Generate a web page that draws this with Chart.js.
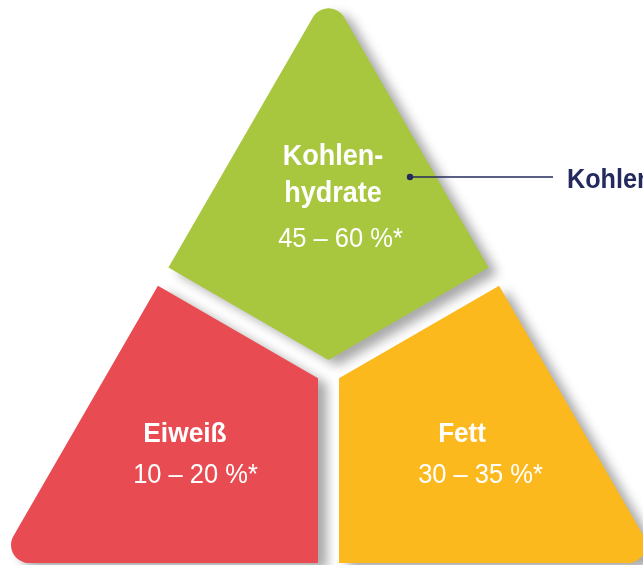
<!DOCTYPE html>
<html lang="de">
<head>
<meta charset="utf-8">
<title>Nährstoffverteilung</title>
<script src="https://cdn.jsdelivr.net/npm/chart.js@4.4.1/dist/chart.umd.min.js"></script>
<style>
  html, body { margin: 0; padding: 0; background: #fff; overflow: hidden; }
  #wrap { width: 643px; height: 565px; }
</style>
</head>
<body>
<div id="wrap"><canvas id="chart" width="643" height="565"></canvas></div>
<script>
// ── Daten: empfohlene Anteile an der Energiezufuhr ──
const NUTRIENTS = ['Kohlenhydrate', 'Eiweiß', 'Fett'];
const LABEL_LINES = [['Kohlen-', 'hydrate'], ['Eiweiß'], ['Fett']];
const RANGE_MIN = [45, 10, 30];
const RANGE_MAX = [60, 20, 35];
const COLORS = ['#a8c73f', '#e84b51', '#fbb91e'];
const CALLOUT_INDEX = 0;

// ── kleine Geometrie-Helfer ──
const mid = (a, b) => ({ x: (a.x + b.x) / 2, y: (a.y + b.y) / 2 });
const lineThrough = (p, q) => ({ p, d: { x: q.x - p.x, y: q.y - p.y } });

function shiftLine(l, dist, toward) {
  const len = Math.hypot(l.d.x, l.d.y);
  let n = { x: -l.d.y / len, y: l.d.x / len };
  if ((toward.x - l.p.x) * n.x + (toward.y - l.p.y) * n.y < 0) n = { x: -n.x, y: -n.y };
  return { p: { x: l.p.x + n.x * dist, y: l.p.y + n.y * dist }, d: l.d };
}

function intersect(a, b) {
  const den = a.d.x * b.d.y - a.d.y * b.d.x;
  const t = ((b.p.x - a.p.x) * b.d.y - (b.p.y - a.p.y) * b.d.x) / den;
  return { x: a.p.x + a.d.x * t, y: a.p.y + a.d.y * t };
}

function roundedPoly(ctx, pts, radii) {
  const n = pts.length;
  const start = mid(pts[n - 1], pts[0]);
  ctx.beginPath();
  ctx.moveTo(start.x, start.y);
  for (let i = 0; i < n; i++) {
    const cur = pts[i], next = pts[(i + 1) % n];
    ctx.arcTo(cur.x, cur.y, next.x, next.y, radii[i]);
  }
  ctx.closePath();
}

function drawText(ctx, text, x, y, font, color, sx, align) {
  ctx.save();
  ctx.translate(x, y);
  ctx.scale(sx, 1);
  ctx.font = font;
  ctx.fillStyle = color;
  ctx.textAlign = align || 'center';
  ctx.textBaseline = 'alphabetic';
  ctx.fillText(text, 0, 0);
  ctx.restore();
}

// ── Plugin: Dreieck in drei Segmente ──
const pyramidPlugin = {
  id: 'pyramid',
  afterDraw(chart, args, opts) {
    const { ctx } = chart;
    const xs = chart.scales.x, ys = chart.scales.y;
    const px = (x, y) => ({ x: xs.getPixelForValue(x), y: ys.getPixelForValue(y) });

    // gleichseitiges Dreieck
    const half = (opts.baseY - opts.apexY) / Math.sqrt(3);
    const A = px(opts.centerX, opts.apexY);
    const BL = px(opts.centerX - half, opts.baseY);
    const BR = px(opts.centerX + half, opts.baseY);
    const J = { x: (A.x + BL.x + BR.x) / 3, y: (A.y + BL.y + BR.y) / 3 };

    const left = lineThrough(A, BL), right = lineThrough(A, BR), base = lineThrough(BL, BR);
    const dL = lineThrough(J, mid(A, BL)), dR = lineThrough(J, mid(A, BR)), dB = lineThrough(J, mid(BL, BR));
    const g = opts.gap / 2, r = opts.radius;

    const gL = shiftLine(dL, g, A), gR = shiftLine(dR, g, A);
    const rL = shiftLine(dL, g, BL), rB = shiftLine(dB, g, BL);
    const yR = shiftLine(dR, g, BR), yB = shiftLine(dB, g, BR);

    const pieces = [
      { pts: [A, intersect(left, gL), intersect(gL, gR), intersect(gR, right)], radii: [r, 0, 0, 0] },
      { pts: [intersect(left, rL), BL, intersect(base, rB), intersect(rB, rL)], radii: [0, r, 0, 0] },
      { pts: [intersect(right, yR), intersect(yR, yB), intersect(yB, base), BR], radii: [0, 0, 0, r] }
    ];

    ctx.save();
    pieces.forEach((pc, i) => {
      ctx.save();
      ctx.shadowColor = 'rgba(0,0,0,0.34)';
      ctx.shadowBlur = 11;
      ctx.shadowOffsetX = 9;
      ctx.shadowOffsetY = 6;
      roundedPoly(ctx, pc.pts, pc.radii);
      ctx.fillStyle = COLORS[i];
      ctx.fill();
      ctx.restore();
    });

    // Beschriftung
    const boldFont = s => `bold ${s}px "Liberation Sans", Arial, sans-serif`;
    const regFont = s => `${s}px "Liberation Sans", Arial, sans-serif`;
    NUTRIENTS.forEach((name, i) => {
      const a = opts.labels[i];
      LABEL_LINES[i].forEach((line, k) => {
        const p = px(a.titleX, a.titleY + k * a.lineGap);
        drawText(ctx, line, p.x, p.y, boldFont(a.titleSize), '#ffffff', a.titleScale);
      });
      const q = px(a.rangeX, a.rangeY);
      drawText(ctx, `${RANGE_MIN[i]} – ${RANGE_MAX[i]} %*`, q.x, q.y, regFont(28), '#ffffff', 0.91);
    });

    // Hinweislinie
    const c = opts.callout;
    const d0 = px(c.dotX, c.y), d1 = px(c.lineEndX, c.y), t = px(c.textX, c.textY);
    ctx.strokeStyle = c.color;
    ctx.lineWidth = 1.6;
    ctx.beginPath();
    ctx.moveTo(d0.x, d0.y);
    ctx.lineTo(d1.x, d1.y);
    ctx.stroke();
    ctx.fillStyle = c.color;
    ctx.beginPath();
    ctx.arc(d0.x, d0.y, 3.2, 0, Math.PI * 2);
    ctx.fill();
    drawText(ctx, NUTRIENTS[CALLOUT_INDEX], t.x, t.y, boldFont(28), c.color, 0.9, 'left');
    ctx.restore();
  }
};

new Chart(document.getElementById('chart'), {
  type: 'scatter',
  data: { datasets: [] },
  plugins: [pyramidPlugin],
  options: {
    responsive: false,
    animation: false,
    layout: { padding: 0 },
    scales: {
      x: { type: 'linear', min: 0, max: 643, display: false },
      y: { type: 'linear', min: 0, max: 565, reverse: true, display: false }
    },
    plugins: {
      legend: { display: false },
      tooltip: { enabled: false },
      pyramid: {
        centerX: 328.5,
        apexY: -9.7,
        baseY: 563,
        gap: 21,
        radius: 18,
        labels: [
          { titleX: 333, titleY: 165, lineGap: 37, titleSize: 30, titleScale: 0.9, rangeX: 340.5, rangeY: 247 },
          { titleX: 185, titleY: 442, lineGap: 37, titleSize: 28, titleScale: 0.94, rangeX: 195.5, rangeY: 483 },
          { titleX: 462, titleY: 442, lineGap: 37, titleSize: 28, titleScale: 0.93, rangeX: 480.5, rangeY: 483 }
        ],
        callout: { dotX: 410, lineEndX: 553, y: 177, textX: 567, textY: 188, color: '#242a5e' }
      }
    }
  }
});
</script>
</body>
</html>
